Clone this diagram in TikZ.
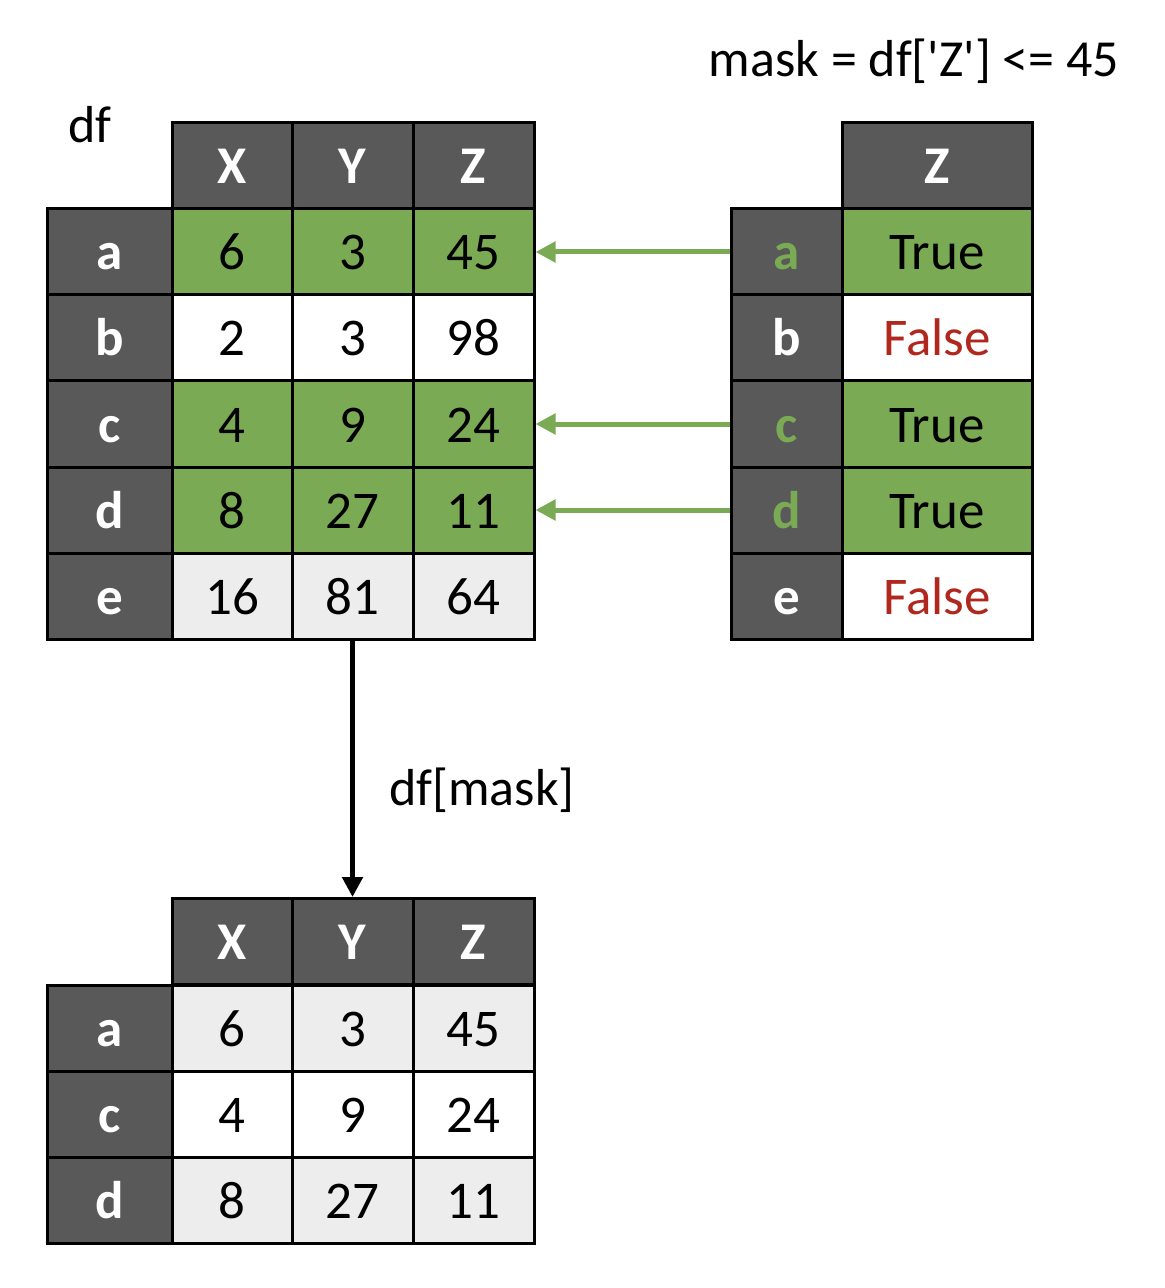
\documentclass[tikz,border=0pt]{standalone}
\usepackage{fontspec}
\setmainfont{Carlito}
\newfontfamily\plainquote{Carlito}[Ligatures=TeXOff]
\usetikzlibrary{arrows.meta}
\definecolor{hdr}{HTML}{595959}
\definecolor{grn}{HTML}{7BAA55}
\definecolor{lgr}{HTML}{EDEDED}
\definecolor{fred}{HTML}{B0271E}
\tikzset{
  cell/.style={draw=black, line width=1.5pt, inner sep=0pt, minimum height=43pt, text height=18pt, text depth=0pt, font=\fontsize{26.5}{30}\selectfont},
  hcell/.style={cell, fill=hdr, text=white, font=\fontsize{26.5}{30}\selectfont\bfseries},
  lbl/.style={font=\fontsize{26}{30}\selectfont, inner sep=0pt, anchor=base},
  garrow/.style={draw=grn, line width=2.5pt, -{Triangle[length=10pt,width=10pt]}},
  barrow/.style={draw=black, line width=2.5pt, -{Triangle[length=10pt,width=10pt]}}
}
\begin{document}
\begin{tikzpicture}[x=0.5pt,y=-0.5pt]
\useasboundingbox (0,0) rectangle (1164,1288);
% df table
\node[hcell, minimum width=60pt] (df-h-X) at (232,165.5) {X};
\node[hcell, minimum width=60.5pt] (df-h-Y) at (352.5,165.5) {Y};
\node[hcell, minimum width=60.5pt] (df-h-Z) at (473.5,165.5) {Z};
\foreach \r/\y/\a/\b/\c/\f in {a/252/6/3/45/grn, b/338/2/3/98/white, c/424/4/9/24/grn, d/510/8/27/11/grn, e/596/16/81/64/lgr}{
  \node[hcell, minimum width=62.5pt] (df-\r-i) at (109.5,\y) {\r};
  \node[cell, fill=\f, minimum width=60pt] (df-\r-X) at (232,\y) {\a};
  \node[cell, fill=\f, minimum width=60.5pt] (df-\r-Y) at (352.5,\y) {\b};
  \node[cell, fill=\f, minimum width=60.5pt] (df-\r-Z) at (473.5,\y) {\c};
}
\node[lbl] (dflabel) at (90,143) {df};
% mask table
\node[hcell, minimum width=95pt] (m-h-Z) at (937,165.5) {Z};
\foreach \r/\y/\v/\f/\t/\it in {a/252/True/grn/black/grn, b/338/False/white/fred/white, c/424/True/grn/black/grn, d/510/True/grn/black/grn, e/596/False/white/fred/white}{
  \node[hcell, text=\it, minimum width=55.5pt] (m-\r-i) at (786.5,\y) {\r};
  \node[cell, fill=\f, text=\t, minimum width=95pt] (m-\r-Z) at (937,\y) {\v};
}
\node[lbl] (masklabel) at (914,77) {\plainquote mask = df['Z'] <= 45};
% arrows
\draw[garrow] (m-a-i.west) -- (df-a-Z.east);
\draw[garrow] (m-c-i.west) -- (df-c-Z.east);
\draw[garrow] (m-d-i.west) -- (df-d-Z.east);
% result table
\node[hcell, minimum width=60pt] (r-h-X) at (232,941.5) {X};
\node[hcell, minimum width=60.5pt] (r-h-Y) at (352.5,941.5) {Y};
\node[hcell, minimum width=60.5pt] (r-h-Z) at (473.5,941.5) {Z};
\foreach \r/\y/\a/\b/\c/\f in {a/1028/6/3/45/lgr, c/1114/4/9/24/white, d/1200/8/27/11/lgr}{
  \node[hcell, minimum width=62.5pt] (r-\r-i) at (109.5,\y) {\r};
  \node[cell, fill=\f, minimum width=60pt] (r-\r-X) at (232,\y) {\a};
  \node[cell, fill=\f, minimum width=60.5pt] (r-\r-Y) at (352.5,\y) {\b};
  \node[cell, fill=\f, minimum width=60.5pt] (r-\r-Z) at (473.5,\y) {\c};
}
\draw[barrow] (df-e-Y.south) -- (r-h-Y.north);
\node[lbl] (masklbl2) at (482,805) {df[mask]};
\end{tikzpicture}
\end{document}
